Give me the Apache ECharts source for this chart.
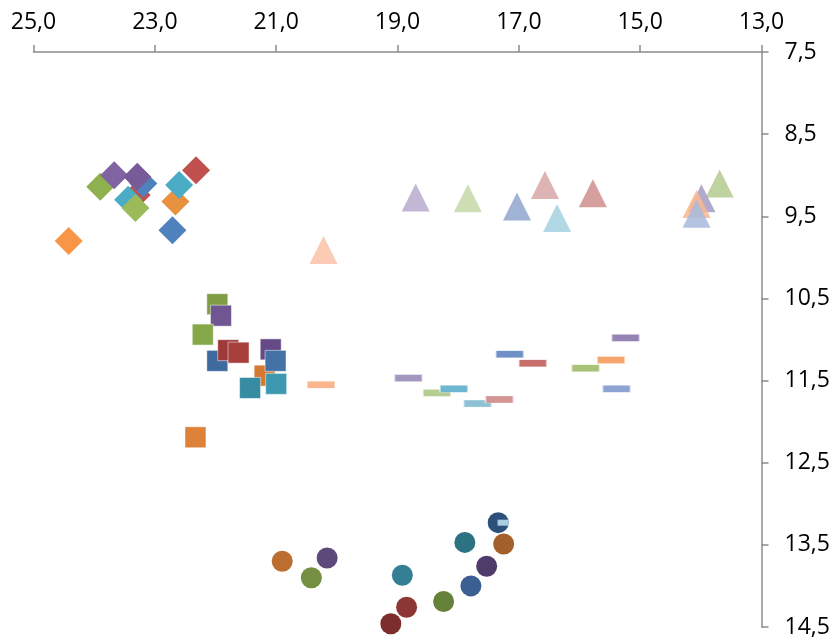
<!DOCTYPE html>
<html>
<head>
<meta charset="utf-8">
<script src="https://cdn.jsdelivr.net/npm/echarts@6/dist/echarts.min.js"></script>
<style>html,body{margin:0;padding:0;background:#fff}#c{width:838px;height:640px}</style>
</head>
<body>
<div id="c"></div>
<script>
// Tick labels
const xTicks = [25, 23, 21, 19, 17, 15, 13];
const yTicks = [7.5, 8.5, 9.5, 10.5, 11.5, 12.5, 13.5, 14.5];

// Group 1: diamonds
const diamondX = [23.30, 23.19, 23.44, 23.90, 23.67, 23.29, 23.32, 24.42, 22.66, 22.60, 22.32, 22.71];
const diamondY = [9.24, 9.10, 9.30, 9.14, 9.00, 9.02, 9.40, 9.80, 9.32, 9.12, 8.94, 9.67];
// Group 2: triangles
const triangleX = [18.70, 17.84, 17.03, 16.57, 16.37, 15.78, 13.69, 13.99, 14.07, 14.07, 20.22];
const triangleY = [9.27, 9.28, 9.38, 9.12, 9.52, 9.22, 9.10, 9.28, 9.35, 9.47, 9.91];
// Group 3: squares
const squareX = [21.97, 21.91, 22.21, 21.97, 21.79, 21.62, 21.09, 21.19, 21.01, 21.43, 21.00, 22.33];
const squareY = [10.57, 10.71, 10.94, 11.26, 11.13, 11.16, 11.12, 11.44, 11.26, 11.59, 11.54, 12.19];
// Group 4: dashes
const dashX = [20.26, 18.82, 18.35, 18.07, 17.68, 17.32, 17.15, 16.77, 15.90, 15.48, 15.24, 15.39];
const dashY = [11.55, 11.47, 11.65, 11.60, 11.78, 11.73, 11.18, 11.29, 11.35, 11.25, 10.98, 11.60];
// Group 5: circles
const circleX = [20.90, 20.16, 20.42, 18.92, 18.85, 19.11, 18.24, 17.79, 17.53, 17.89, 17.34, 17.25];
const circleY = [13.70, 13.66, 13.90, 13.87, 14.26, 14.46, 14.19, 14.00, 13.76, 13.47, 13.23, 13.49];
// Extra small dash
const smallDashX = [17.26];
const smallDashY = [13.23];

// Styles
const diamondColors = ['#C0504D','#4F81BD','#4BACC6','#8EB04F','#8064A2','#775A98','#9BBB59','#F79646','#E8913F','#4AADC5','#C0504D','#4F81BD'];
const triangleColors = ['#B9AED0','#C6D8AA','#93A9CE','#DAA9A8','#A9D3E1','#CF9291','#B6CD94','#A99DC5','#F9B893','#A8BBDC','#FBC4AC'];
const squareColors = ['#7E9D45','#6F5592','#86A848','#3E6AA0','#9E3B38','#A7403D','#664A87','#D67A33','#4372A7','#378CA1','#3E99B0','#DE8239'];
const dashColors = ['#F9B58C','#A497BF','#B5CC92','#6DB6CF','#8EC1D4','#D49494','#6F91C8','#C86E6B','#A8C277','#F6A56C','#9583B4','#8DA4D2'];
const circleColors = ['#BC6E30','#5E4A7A','#748F3F','#347F93','#8C3735','#7D2D2B','#66813A','#3B5F91','#503C6B','#2D7282','#2C5079','#A4602A'];
const smallDashColors = ['#A7CFE0'];

function build(xs, ys, colors) {
  return xs.map((x, i) => ({ value: [x, ys[i]], itemStyle: { color: colors[i] } }));
}
const fmt = v => Number(v).toFixed(1).replace('.', ',');
const axisColor = '#8C8C8C';
const fontFamily = '"Open Sans", sans-serif';

const chart = echarts.init(document.getElementById('c'));
chart.setOption({
  animation: false,
  grid: { left: 33.5, right: 76.5, top: 52, bottom: 13, containLabel: false },
  xAxis: {
    type: 'value', position: 'top', inverse: true, min: 13, max: 25,
    axisLine: { show: true, onZero: false, lineStyle: { color: axisColor, width: 1.5 } },
    axisTick: { show: true, length: 7, customValues: xTicks, lineStyle: { color: axisColor, width: 1.5 } },
    axisLabel: { customValues: xTicks, formatter: fmt, color: '#000', fontSize: 23, fontFamily, margin: 18 },
    splitLine: { show: false }
  },
  yAxis: {
    type: 'value', position: 'right', inverse: true, min: 7.5, max: 14.5,
    axisLine: { show: true, onZero: false, lineStyle: { color: axisColor, width: 1.5 } },
    axisTick: { show: true, length: 7, customValues: yTicks, lineStyle: { color: axisColor, width: 1.5 } },
    axisLabel: { customValues: yTicks, formatter: fmt, color: '#000', fontSize: 23, fontFamily, margin: 23 },
    splitLine: { show: false }
  },
  series: [
    { type: 'scatter', symbol: 'triangle', symbolSize: 28, itemStyle: { opacity: 0.88 }, data: build(triangleX, triangleY, triangleColors) },
    { type: 'scatter', symbol: 'diamond', symbolSize: 28, itemStyle: { opacity: 1 }, data: build(diamondX, diamondY, diamondColors) },
    { type: 'scatter', symbol: 'rect', symbolSize: 21, itemStyle: { opacity: 1, borderColor: 'rgba(255,255,255,0.5)', borderWidth: 1 }, data: build(squareX, squareY, squareColors) },
    { type: 'scatter', symbol: 'rect', symbolSize: [28, 7], itemStyle: { opacity: 1, borderColor: 'rgba(255,255,255,0.5)', borderWidth: 1 }, data: build(dashX, dashY, dashColors) },
    { type: 'scatter', symbol: 'circle', symbolSize: 21, itemStyle: { opacity: 1 }, data: build(circleX, circleY, circleColors) },
    { type: 'scatter', symbol: 'rect', symbolSize: [11, 6], itemStyle: { opacity: 1 }, data: build(smallDashX, smallDashY, smallDashColors) }
  ]
});
</script>
</body>
</html>
